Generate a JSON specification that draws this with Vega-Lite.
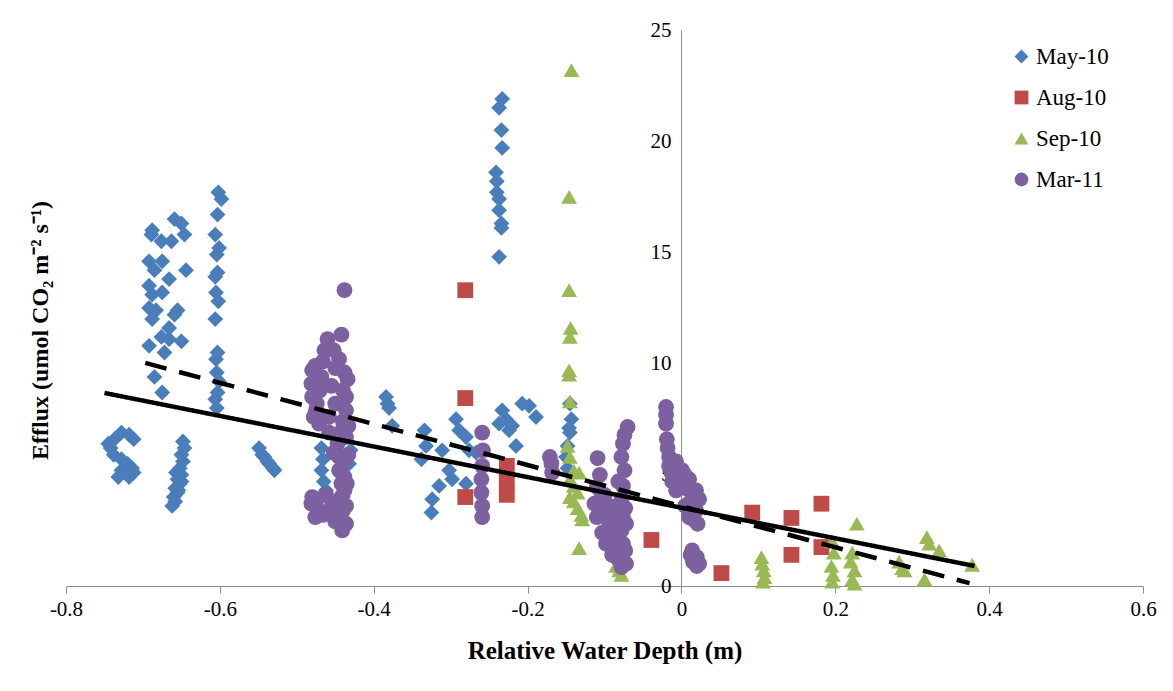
{
  "$schema": "https://vega.github.io/schema/vega-lite/v6.json",
  "width": 1077,
  "height": 556,
  "autosize": {"type": "none"},
  "padding": {"left": 66, "top": 30, "right": 30, "bottom": 105},
  "background": "white",
  "config": {"view": {"stroke": null}, "font": "Liberation Serif"},
  "datasets": {
    "pts": [
      {"s":"May-10","x":-0.728,"y":6.9},{"s":"May-10","x":-0.718,"y":6.8},{"s":"May-10","x":-0.712,"y":6.6},{"s":"May-10","x":-0.737,"y":6.6},{"s":"May-10","x":-0.742,"y":6.2},{"s":"May-10","x":-0.738,"y":5.9},{"s":"May-10","x":-0.728,"y":5.7},{"s":"May-10","x":-0.72,"y":5.5},{"s":"May-10","x":-0.714,"y":5.3},{"s":"May-10","x":-0.728,"y":5.2},{"s":"May-10","x":-0.732,"y":4.9},{"s":"May-10","x":-0.718,"y":4.9},{"s":"May-10","x":-0.712,"y":5.1},{"s":"May-10","x":-0.745,"y":6.4},
      {"s":"May-10","x":-0.648,"y":6.5},{"s":"May-10","x":-0.646,"y":6.2},{"s":"May-10","x":-0.65,"y":5.9},{"s":"May-10","x":-0.648,"y":5.6},{"s":"May-10","x":-0.652,"y":5.3},{"s":"May-10","x":-0.65,"y":5.0},{"s":"May-10","x":-0.655,"y":4.8},{"s":"May-10","x":-0.652,"y":4.6},{"s":"May-10","x":-0.658,"y":4.4},{"s":"May-10","x":-0.655,"y":4.2},{"s":"May-10","x":-0.66,"y":4.0},{"s":"May-10","x":-0.658,"y":3.8},{"s":"May-10","x":-0.662,"y":3.6},{"s":"May-10","x":-0.654,"y":4.3},{"s":"May-10","x":-0.65,"y":4.7},{"s":"May-10","x":-0.657,"y":5.1},
      {"s":"May-10","x":-0.659,"y":16.5},{"s":"May-10","x":-0.65,"y":16.3},{"s":"May-10","x":-0.688,"y":16.0},{"s":"May-10","x":-0.689,"y":15.8},{"s":"May-10","x":-0.676,"y":15.5},{"s":"May-10","x":-0.663,"y":15.5},{"s":"May-10","x":-0.646,"y":15.8},{"s":"May-10","x":-0.692,"y":14.6},{"s":"May-10","x":-0.675,"y":14.6},{"s":"May-10","x":-0.644,"y":14.2},{"s":"May-10","x":-0.685,"y":14.2},{"s":"May-10","x":-0.666,"y":13.8},{"s":"May-10","x":-0.692,"y":13.5},{"s":"May-10","x":-0.675,"y":13.2},{"s":"May-10","x":-0.688,"y":13.1},{"s":"May-10","x":-0.692,"y":12.5},{"s":"May-10","x":-0.683,"y":12.4},{"s":"May-10","x":-0.655,"y":12.4},{"s":"May-10","x":-0.688,"y":12.0},{"s":"May-10","x":-0.659,"y":12.2},{"s":"May-10","x":-0.666,"y":11.6},{"s":"May-10","x":-0.676,"y":11.2},{"s":"May-10","x":-0.65,"y":11.0},{"s":"May-10","x":-0.692,"y":10.8},{"s":"May-10","x":-0.666,"y":11.1},{"s":"May-10","x":-0.672,"y":10.5},{"s":"May-10","x":-0.685,"y":9.4},{"s":"May-10","x":-0.675,"y":8.7},
      {"s":"May-10","x":-0.602,"y":17.7},{"s":"May-10","x":-0.598,"y":17.4},{"s":"May-10","x":-0.603,"y":16.7},{"s":"May-10","x":-0.606,"y":15.8},{"s":"May-10","x":-0.601,"y":15.2},{"s":"May-10","x":-0.604,"y":14.9},{"s":"May-10","x":-0.603,"y":14.1},{"s":"May-10","x":-0.606,"y":13.9},{"s":"May-10","x":-0.605,"y":13.2},{"s":"May-10","x":-0.602,"y":12.8},{"s":"May-10","x":-0.606,"y":12.0},{"s":"May-10","x":-0.603,"y":10.5},{"s":"May-10","x":-0.605,"y":10.2},{"s":"May-10","x":-0.604,"y":9.6},{"s":"May-10","x":-0.601,"y":9.2},{"s":"May-10","x":-0.603,"y":8.7},{"s":"May-10","x":-0.606,"y":8.4},{"s":"May-10","x":-0.604,"y":8.0},
      {"s":"May-10","x":-0.549,"y":6.2},{"s":"May-10","x":-0.545,"y":5.9},{"s":"May-10","x":-0.542,"y":5.8},{"s":"May-10","x":-0.538,"y":5.6},{"s":"May-10","x":-0.536,"y":5.5},{"s":"May-10","x":-0.531,"y":5.3},{"s":"May-10","x":-0.529,"y":5.2},
      {"s":"May-10","x":-0.468,"y":6.2},{"s":"May-10","x":-0.466,"y":5.7},{"s":"May-10","x":-0.468,"y":5.2},{"s":"May-10","x":-0.465,"y":4.7},{"s":"May-10","x":-0.462,"y":4.3},{"s":"May-10","x":-0.43,"y":6.1},{"s":"May-10","x":-0.432,"y":5.5},{"s":"May-10","x":-0.44,"y":4.0},
      {"s":"May-10","x":-0.384,"y":8.5},{"s":"May-10","x":-0.382,"y":8.2},{"s":"May-10","x":-0.38,"y":8.0},{"s":"May-10","x":-0.376,"y":7.2},
      {"s":"May-10","x":-0.334,"y":7.0},{"s":"May-10","x":-0.332,"y":6.3},{"s":"May-10","x":-0.338,"y":5.7},{"s":"May-10","x":-0.311,"y":6.1},{"s":"May-10","x":-0.293,"y":7.5},{"s":"May-10","x":-0.289,"y":7.0},{"s":"May-10","x":-0.28,"y":6.7},{"s":"May-10","x":-0.276,"y":6.1},{"s":"May-10","x":-0.302,"y":5.2},{"s":"May-10","x":-0.315,"y":4.5},{"s":"May-10","x":-0.324,"y":3.9},{"s":"May-10","x":-0.325,"y":3.3},{"s":"May-10","x":-0.298,"y":4.8},{"s":"May-10","x":-0.28,"y":4.6},{"s":"May-10","x":-0.267,"y":6.0},
      {"s":"May-10","x":-0.233,"y":7.9},{"s":"May-10","x":-0.228,"y":7.5},{"s":"May-10","x":-0.22,"y":7.2},{"s":"May-10","x":-0.207,"y":8.2},{"s":"May-10","x":-0.198,"y":8.1},{"s":"May-10","x":-0.189,"y":7.6},{"s":"May-10","x":-0.215,"y":6.3},{"s":"May-10","x":-0.224,"y":7.0},{"s":"May-10","x":-0.237,"y":7.3},
      {"s":"May-10","x":-0.233,"y":21.9},{"s":"May-10","x":-0.237,"y":21.5},{"s":"May-10","x":-0.234,"y":20.5},{"s":"May-10","x":-0.233,"y":19.7},{"s":"May-10","x":-0.241,"y":18.6},{"s":"May-10","x":-0.24,"y":18.2},{"s":"May-10","x":-0.24,"y":17.7},{"s":"May-10","x":-0.237,"y":17.4},{"s":"May-10","x":-0.237,"y":16.9},{"s":"May-10","x":-0.234,"y":16.3},{"s":"May-10","x":-0.234,"y":16.1},{"s":"May-10","x":-0.237,"y":14.8},
      {"s":"May-10","x":-0.145,"y":8.2},{"s":"May-10","x":-0.143,"y":7.5},{"s":"May-10","x":-0.145,"y":6.9},{"s":"May-10","x":-0.148,"y":6.3},{"s":"May-10","x":-0.15,"y":5.8},{"s":"May-10","x":-0.148,"y":5.3},{"s":"May-10","x":-0.146,"y":7.1},
      {"s":"Aug-10","x":-0.281,"y":13.3},{"s":"Aug-10","x":-0.281,"y":8.45},{"s":"Aug-10","x":-0.281,"y":4.0},{"s":"Aug-10","x":-0.227,"y":5.4},{"s":"Aug-10","x":-0.227,"y":4.7},{"s":"Aug-10","x":-0.227,"y":4.1},{"s":"Aug-10","x":-0.039,"y":2.07},{"s":"Aug-10","x":0.052,"y":0.58},{"s":"Aug-10","x":0.092,"y":3.3},{"s":"Aug-10","x":0.143,"y":3.06},{"s":"Aug-10","x":0.143,"y":1.4},{"s":"Aug-10","x":0.182,"y":3.7},{"s":"Aug-10","x":0.182,"y":1.75},
      {"s":"Sep-10","x":-0.143,"y":23.2},{"s":"Sep-10","x":-0.146,"y":17.5},{"s":"Sep-10","x":-0.146,"y":13.3},{"s":"Sep-10","x":-0.144,"y":11.6},{"s":"Sep-10","x":-0.145,"y":11.2},{"s":"Sep-10","x":-0.146,"y":9.7},{"s":"Sep-10","x":-0.146,"y":9.5},{"s":"Sep-10","x":-0.145,"y":8.3},{"s":"Sep-10","x":-0.148,"y":6.3},{"s":"Sep-10","x":-0.145,"y":5.8},{"s":"Sep-10","x":-0.14,"y":5.2},{"s":"Sep-10","x":-0.145,"y":4.8},{"s":"Sep-10","x":-0.14,"y":4.5},{"s":"Sep-10","x":-0.135,"y":4.2},{"s":"Sep-10","x":-0.145,"y":4.0},{"s":"Sep-10","x":-0.14,"y":3.8},{"s":"Sep-10","x":-0.135,"y":3.5},{"s":"Sep-10","x":-0.13,"y":3.2},{"s":"Sep-10","x":-0.129,"y":3.0},{"s":"Sep-10","x":-0.133,"y":1.7},{"s":"Sep-10","x":-0.133,"y":5.1},{"s":"Sep-10","x":-0.085,"y":0.9},{"s":"Sep-10","x":-0.081,"y":0.7},{"s":"Sep-10","x":-0.078,"y":0.5},
      {"s":"Sep-10","x":0.104,"y":1.3},{"s":"Sep-10","x":0.105,"y":1.0},{"s":"Sep-10","x":0.107,"y":0.7},{"s":"Sep-10","x":0.108,"y":0.4},{"s":"Sep-10","x":0.106,"y":0.2},
      {"s":"Sep-10","x":0.196,"y":2.0},{"s":"Sep-10","x":0.198,"y":1.5},{"s":"Sep-10","x":0.195,"y":0.9},{"s":"Sep-10","x":0.197,"y":0.5},{"s":"Sep-10","x":0.196,"y":0.2},
      {"s":"Sep-10","x":0.228,"y":2.8},{"s":"Sep-10","x":0.222,"y":1.5},{"s":"Sep-10","x":0.22,"y":1.1},{"s":"Sep-10","x":0.225,"y":0.7},{"s":"Sep-10","x":0.222,"y":0.3},{"s":"Sep-10","x":0.225,"y":0.1},
      {"s":"Sep-10","x":0.283,"y":1.1},{"s":"Sep-10","x":0.287,"y":0.8},{"s":"Sep-10","x":0.29,"y":0.7},
      {"s":"Sep-10","x":0.319,"y":2.2},{"s":"Sep-10","x":0.322,"y":1.9},{"s":"Sep-10","x":0.335,"y":1.6},{"s":"Sep-10","x":0.316,"y":0.3},{"s":"Sep-10","x":0.378,"y":0.95},
      {"s":"Mar-11","x":-0.438,"y":13.3},{"s":"Mar-11","x":-0.442,"y":11.3},{"s":"Mar-11","x":-0.46,"y":11.1},{"s":"Mar-11","x":-0.464,"y":10.6},{"s":"Mar-11","x":-0.445,"y":10.2},{"s":"Mar-11","x":-0.48,"y":9.7},{"s":"Mar-11","x":-0.438,"y":9.6},{"s":"Mar-11","x":-0.481,"y":9.1},{"s":"Mar-11","x":-0.434,"y":9.3},{"s":"Mar-11","x":-0.48,"y":8.5},{"s":"Mar-11","x":-0.436,"y":8.5},{"s":"Mar-11","x":-0.475,"y":7.9},{"s":"Mar-11","x":-0.436,"y":7.9},{"s":"Mar-11","x":-0.458,"y":7.6},{"s":"Mar-11","x":-0.471,"y":7.3},{"s":"Mar-11","x":-0.441,"y":7.0},{"s":"Mar-11","x":-0.458,"y":6.9},{"s":"Mar-11","x":-0.447,"y":6.4},{"s":"Mar-11","x":-0.445,"y":5.8},{"s":"Mar-11","x":-0.445,"y":5.2},{"s":"Mar-11","x":-0.442,"y":4.6},{"s":"Mar-11","x":-0.442,"y":4.0},{"s":"Mar-11","x":-0.48,"y":4.0},{"s":"Mar-11","x":-0.481,"y":3.7},{"s":"Mar-11","x":-0.471,"y":3.4},{"s":"Mar-11","x":-0.454,"y":3.7},{"s":"Mar-11","x":-0.445,"y":3.1},{"s":"Mar-11","x":-0.436,"y":2.8},{"s":"Mar-11","x":-0.436,"y":3.6},{"s":"Mar-11","x":-0.441,"y":2.5},{"s":"Mar-11","x":-0.468,"y":9.4},{"s":"Mar-11","x":-0.47,"y":8.8},{"s":"Mar-11","x":-0.45,"y":8.2},{"s":"Mar-11","x":-0.466,"y":3.2},
      {"s":"Mar-11","x":-0.476,"y":9.9},{"s":"Mar-11","x":-0.472,"y":9.2},{"s":"Mar-11","x":-0.474,"y":8.2},{"s":"Mar-11","x":-0.478,"y":7.6},{"s":"Mar-11","x":-0.466,"y":10.1},{"s":"Mar-11","x":-0.452,"y":10.6},{"s":"Mar-11","x":-0.45,"y":9.8},{"s":"Mar-11","x":-0.455,"y":9.0},{"s":"Mar-11","x":-0.44,"y":8.8},{"s":"Mar-11","x":-0.44,"y":7.4},{"s":"Mar-11","x":-0.436,"y":6.7},{"s":"Mar-11","x":-0.452,"y":6.0},{"s":"Mar-11","x":-0.44,"y":5.5},{"s":"Mar-11","x":-0.438,"y":4.9},{"s":"Mar-11","x":-0.438,"y":4.3},{"s":"Mar-11","x":-0.474,"y":3.9},{"s":"Mar-11","x":-0.458,"y":3.3},{"s":"Mar-11","x":-0.45,"y":2.9},{"s":"Mar-11","x":-0.44,"y":3.4},{"s":"Mar-11","x":-0.476,"y":3.1},{"s":"Mar-11","x":-0.462,"y":4.1},{"s":"Mar-11","x":-0.433,"y":7.2},{"s":"Mar-11","x":-0.433,"y":5.9},{"s":"Mar-11","x":-0.435,"y":4.6},
      {"s":"Mar-11","x":-0.259,"y":6.9},{"s":"Mar-11","x":-0.258,"y":6.1},{"s":"Mar-11","x":-0.259,"y":5.4},{"s":"Mar-11","x":-0.26,"y":4.8},{"s":"Mar-11","x":-0.26,"y":4.2},{"s":"Mar-11","x":-0.259,"y":3.6},{"s":"Mar-11","x":-0.259,"y":3.1},
      {"s":"Mar-11","x":-0.169,"y":5.5},{"s":"Mar-11","x":-0.168,"y":5.1},{"s":"Mar-11","x":-0.171,"y":5.8},
      {"s":"Mar-11","x":-0.109,"y":5.75},{"s":"Mar-11","x":-0.11,"y":4.45},{"s":"Mar-11","x":-0.113,"y":3.7},{"s":"Mar-11","x":-0.11,"y":3.1},{"s":"Mar-11","x":-0.103,"y":2.4},{"s":"Mar-11","x":-0.098,"y":1.9},{"s":"Mar-11","x":-0.094,"y":2.8},{"s":"Mar-11","x":-0.094,"y":3.6},{"s":"Mar-11","x":-0.1,"y":4.1},
      {"s":"Mar-11","x":-0.106,"y":5.0},{"s":"Mar-11","x":-0.104,"y":4.0},{"s":"Mar-11","x":-0.098,"y":3.3},{"s":"Mar-11","x":-0.09,"y":2.5},{"s":"Mar-11","x":-0.088,"y":1.6},{"s":"Mar-11","x":-0.082,"y":1.2},{"s":"Mar-11","x":-0.09,"y":1.4},{"s":"Mar-11","x":-0.094,"y":2.1},{"s":"Mar-11","x":-0.085,"y":3.0},{"s":"Mar-11","x":-0.083,"y":3.6},{"s":"Mar-11","x":-0.082,"y":4.7},{"s":"Mar-11","x":-0.073,"y":3.5},{"s":"Mar-11","x":-0.072,"y":2.8},{"s":"Mar-11","x":-0.073,"y":1.6},{"s":"Mar-11","x":-0.074,"y":6.8},
      {"s":"Mar-11","x":-0.07,"y":7.15},{"s":"Mar-11","x":-0.076,"y":6.4},{"s":"Mar-11","x":-0.078,"y":5.8},{"s":"Mar-11","x":-0.074,"y":5.2},{"s":"Mar-11","x":-0.076,"y":4.5},{"s":"Mar-11","x":-0.078,"y":3.9},{"s":"Mar-11","x":-0.076,"y":3.1},{"s":"Mar-11","x":-0.078,"y":2.5},{"s":"Mar-11","x":-0.076,"y":1.9},{"s":"Mar-11","x":-0.078,"y":1.3},{"s":"Mar-11","x":-0.078,"y":0.85},{"s":"Mar-11","x":-0.072,"y":1.0},{"s":"Mar-11","x":-0.084,"y":2.2},
      {"s":"Mar-11","x":-0.02,"y":8.05},{"s":"Mar-11","x":-0.02,"y":7.7},{"s":"Mar-11","x":-0.02,"y":7.3},{"s":"Mar-11","x":-0.019,"y":6.6},{"s":"Mar-11","x":-0.016,"y":5.8},{"s":"Mar-11","x":-0.007,"y":5.6},{"s":"Mar-11","x":0.001,"y":5.2},{"s":"Mar-11","x":0.01,"y":4.8},{"s":"Mar-11","x":0.019,"y":4.3},{"s":"Mar-11","x":0.023,"y":3.9},{"s":"Mar-11","x":0.019,"y":3.4},{"s":"Mar-11","x":0.01,"y":3.1},{"s":"Mar-11","x":0.021,"y":2.8},{"s":"Mar-11","x":-0.013,"y":5.1},{"s":"Mar-11","x":-0.007,"y":4.3},{"s":"Mar-11","x":0.014,"y":1.6},{"s":"Mar-11","x":0.017,"y":1.2},{"s":"Mar-11","x":0.023,"y":1.0},{"s":"Mar-11","x":0.012,"y":1.4},
      {"s":"Mar-11","x":-0.018,"y":6.2},{"s":"Mar-11","x":-0.016,"y":5.4},{"s":"Mar-11","x":-0.012,"y":4.7},{"s":"Mar-11","x":-0.005,"y":4.9},{"s":"Mar-11","x":0.005,"y":4.4},{"s":"Mar-11","x":0.004,"y":5.0},{"s":"Mar-11","x":0.012,"y":3.8},{"s":"Mar-11","x":0.015,"y":3.0},{"s":"Mar-11","x":0.005,"y":3.6},{"s":"Mar-11","x":0.02,"y":1.3},{"s":"Mar-11","x":0.015,"y":1.1},{"s":"Mar-11","x":0.02,"y":0.9}
    ],
    "fit": [
      {"f":"solid","x":-0.75,"y":8.68},{"f":"solid","x":0.381,"y":0.9},
      {"f":"dashed","x":-0.697,"y":10.03},{"f":"dashed","x":0.3745,"y":0.13}
    ]
  },
  "layer": [
    {
      "data": {"name": "pts"},
      "mark": {"type": "point", "filled": true, "opacity": 1, "size": 250, "strokeWidth": 0},
      "encoding": {
        "x": {
          "field": "x", "type": "quantitative",
          "scale": {"domain": [-0.8, 0.6], "nice": false, "zero": false},
          "axis": {
            "values": [-0.8, -0.6, -0.4, -0.2, 0, 0.2, 0.4, 0.6],
            "labelExpr": "replace(format(datum.value, '.1~f'), '−', '-')",
            "grid": false, "domainColor": "#8c8c8c", "tickColor": "#8c8c8c", "tickSize": 7,
            "labelFontSize": 21, "labelFont": "Liberation Serif", "labelColor": "black",
            "labelPadding": 5, "labelFlush": false, "labelOverlap": false,
            "title": "Relative Water Depth (m)", "titleFont": "Liberation Serif", "titleFontSize": 25,
            "titleFontWeight": "bold", "titleColor": "black", "titlePadding": 19
          }
        },
        "y": {
          "field": "y", "type": "quantitative",
          "scale": {"domain": [0, 25], "nice": false},
          "axis": {
            "values": [0, 5, 10, 15, 20, 25], "offset": -615, "ticks": false, "grid": false,
            "domainColor": "#8c8c8c", "labelFontSize": 21, "labelFont": "Liberation Serif",
            "labelColor": "black", "labelPadding": 10, "labelFlush": false, "labelOverlap": false,
            "title": "Efflux (umol CO₂ m⁻² s⁻¹)", "titleFont": "Liberation Serif", "titleFontSize": 24,
            "titleFontWeight": "bold", "titleColor": "black", "titleX": -629, "titleY": 300
          }
        },
        "color": {
          "field": "s", "type": "nominal",
          "scale": {"domain": ["May-10", "Aug-10", "Sep-10", "Mar-11"], "range": ["#4a7ebb", "#be4b48", "#98b954", "#7d60a0"]},
          "legend": {
            "orient": "none", "legendX": 944, "legendY": 15, "title": null,
            "labelFontSize": 23, "labelFont": "Liberation Serif", "labelColor": "black",
            "symbolSize": 190, "rowPadding": 17, "symbolStrokeWidth": 0, "labelOffset": 3
          }
        },
        "shape": {
          "field": "s", "type": "nominal",
          "scale": {"domain": ["May-10", "Aug-10", "Sep-10", "Mar-11"], "range": ["diamond", "square", "triangle-up", "circle"]},
          "legend": {
            "orient": "none", "legendX": 944, "legendY": 15, "title": null,
            "labelFontSize": 23, "labelFont": "Liberation Serif", "labelColor": "black",
            "symbolSize": 190, "rowPadding": 17, "symbolStrokeWidth": 0, "labelOffset": 3
          }
        }
      }
    },
    {
      "data": {"name": "fit"},
      "mark": {"type": "line", "color": "black", "strokeWidth": 4.5},
      "encoding": {
        "x": {"field": "x", "type": "quantitative"},
        "y": {"field": "y", "type": "quantitative"},
        "strokeDash": {
          "field": "f", "type": "nominal",
          "scale": {"domain": ["solid", "dashed"], "range": [[1, 0], [22, 13]]},
          "legend": null
        }
      }
    }
  ]
}
